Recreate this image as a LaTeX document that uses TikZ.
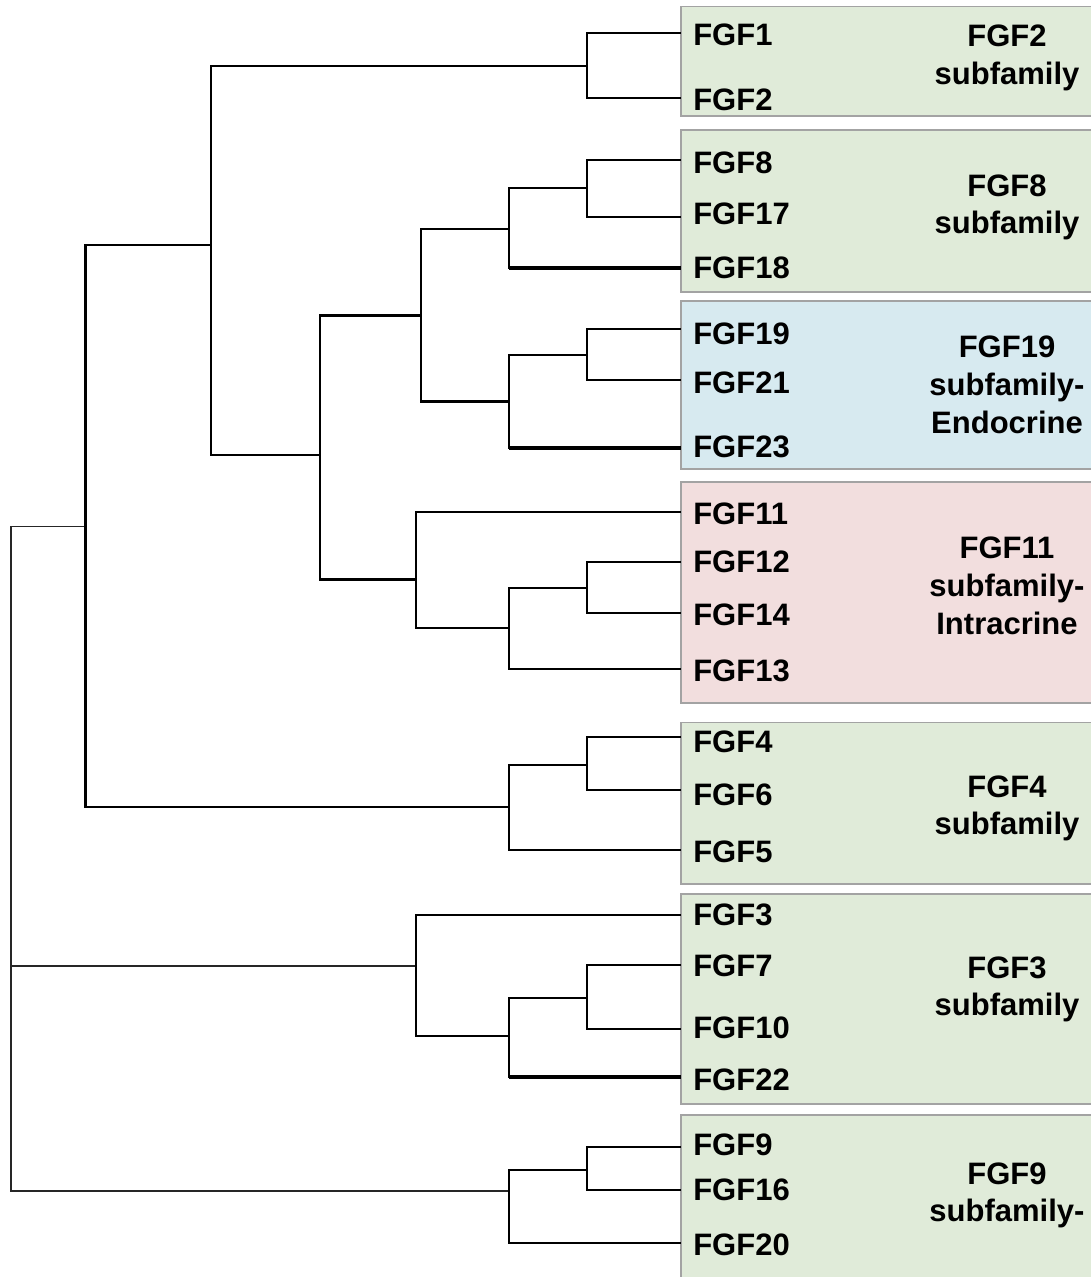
\documentclass[tikz,border=0pt]{standalone}
\usepackage{fontspec}
\setmainfont{Liberation Sans}
\definecolor{boxgreen}{HTML}{E0EBD9}
\definecolor{boxblue}{HTML}{D7EAF0}
\definecolor{boxpink}{HTML}{F2DEDE}
\definecolor{boxborder}{HTML}{A3A3A3}
\begin{document}
\begin{tikzpicture}[x=0.75pt,y=-0.75pt,
  br/.style={line width=1.75pt, black},
  thinbr/.style={line width=1.1pt, black!85},
  thickbr/.style={line width=2.3pt, black},
  fambox/.style={draw=boxborder, line width=1.4pt},
  leaf/.style={anchor=base west, inner sep=0pt, font=\fontsize{23.25}{28}\selectfont\bfseries},
  fam/.style={anchor=base, inner sep=0pt, font=\fontsize{23.25}{28}\selectfont\bfseries}
]
\useasboundingbox (0,0) rectangle (1091,1277);
% family boxes
\path[fambox, fill=boxgreen] (681,6.5) rectangle (1094,116);
\path[fambox, fill=boxgreen] (681,130) rectangle (1094,292);
\path[fambox, fill=boxblue]  (681,301) rectangle (1094,469);
\path[fambox, fill=boxpink]  (681,482) rectangle (1094,703);
\path[fambox, fill=boxgreen] (681,722.5) rectangle (1094,884);
\path[fambox, fill=boxgreen] (681,894) rectangle (1094,1104);
\path[fambox, fill=boxgreen] (681,1115) rectangle (1094,1290);
% internal nodes
\coordinate (root) at (11,966);
\coordinate (nB) at (85.5,526.5);
\coordinate (nA) at (211,245);
\coordinate (n12) at (587,65.7);
\coordinate (nC) at (320,455);
\coordinate (nD) at (421,315.5);
\coordinate (nE) at (509,229);
\coordinate (n817) at (587,188);
\coordinate (nF) at (509,401.6);
\coordinate (n1921) at (587,355);
\coordinate (nG) at (416,579.6);
\coordinate (nH) at (509,628);
\coordinate (n1214) at (587,588);
\coordinate (nI) at (509,807);
\coordinate (n46) at (587,765);
\coordinate (nJ) at (416,966);
\coordinate (nK) at (509,1036);
\coordinate (n710) at (587,998);
\coordinate (nL) at (509,1191);
\coordinate (n916) at (587,1170);
% leaf ends
\coordinate (l1) at (681,33.3);
\coordinate (l2) at (681,97.7);
\coordinate (l8) at (681,160);
\coordinate (l17) at (681,216.7);
\coordinate (l18) at (681,268);
\coordinate (l19) at (681,329);
\coordinate (l21) at (681,380);
\coordinate (l23) at (681,448);
\coordinate (l11) at (681,512);
\coordinate (l12) at (681,562);
\coordinate (l14) at (681,613);
\coordinate (l13) at (681,669);
\coordinate (l4) at (681,737);
\coordinate (l6) at (681,790);
\coordinate (l5) at (681,850);
\coordinate (l3) at (681,915);
\coordinate (l7) at (681,965);
\coordinate (l10) at (681,1029);
\coordinate (l22) at (681,1077);
\coordinate (l9) at (681,1147);
\coordinate (l16) at (681,1190);
\coordinate (l20) at (681,1243);
% branches
\draw[thinbr] (root) |- (nB);
\draw[thinbr] (root) |- (nL);
\draw[thinbr] (root) -- (nJ);
\draw[br] (nB) |- (nA);
\draw[br] (nB) |- (nI);
\draw[br] (nA) |- (n12);
\draw[br] (nA) |- (nC);
\draw[br] (n12) |- (l1);
\draw[br] (n12) |- (l2);
\draw[br] (nC) |- (nD);
\draw[br] (nC) |- (nG);
\draw[br] (nD) |- (nE);
\draw[br] (nD) |- (nF);
\draw[br] (nE) |- (n817);
\draw[br] (nE) |- (l18);
\draw[thickbr] (nE |- l18) -- (l18);
\draw[br] (n817) |- (l8);
\draw[br] (n817) |- (l17);
\draw[br] (nF) |- (n1921);
\draw[br] (nF) |- (l23);
\draw[thickbr] (nF |- l23) -- (l23);
\draw[br] (n1921) |- (l19);
\draw[br] (n1921) |- (l21);
\draw[br] (nG) |- (l11);
\draw[br] (nG) |- (nH);
\draw[br] (nH) |- (n1214);
\draw[br] (nH) |- (l13);
\draw[br] (n1214) |- (l12);
\draw[br] (n1214) |- (l14);
\draw[br] (nI) |- (n46);
\draw[br] (nI) |- (l5);
\draw[br] (n46) |- (l4);
\draw[br] (n46) |- (l6);
\draw[br] (nJ) |- (l3);
\draw[br] (nJ) |- (nK);
\draw[br] (nK) |- (n710);
\draw[br] (nK) |- (l22);
\draw[thickbr] (nK |- l22) -- (l22);
\draw[br] (n710) |- (l7);
\draw[br] (n710) |- (l10);
\draw[br] (nL) |- (n916);
\draw[br] (nL) |- (l20);
\draw[br] (n916) |- (l9);
\draw[br] (n916) |- (l16);
% leaf labels
\node[leaf] (t1) at (693,46) {FGF1};
\node[leaf] (t2) at (693,110.8) {FGF2};
\node[leaf] (t8) at (693,173.6) {FGF8};
\node[leaf] (t17) at (693,224.3) {FGF17};
\node[leaf] (t18) at (693,278.6) {FGF18};
\node[leaf] (t19) at (693,344.4) {FGF19};
\node[leaf] (t21) at (693,393.6) {FGF21};
\node[leaf] (t23) at (693,457.8) {FGF23};
\node[leaf] (t11) at (693,524.4) {FGF11};
\node[leaf] (t12) at (693,572.8) {FGF12};
\node[leaf] (t14) at (693,625.1) {FGF14};
\node[leaf] (t13) at (693,681.8) {FGF13};
\node[leaf] (t4) at (693,752) {FGF4};
\node[leaf] (t6) at (693,805) {FGF6};
\node[leaf] (t5) at (693,862.8) {FGF5};
\node[leaf] (t3) at (693,925) {FGF3};
\node[leaf] (t7) at (693,976.8) {FGF7};
\node[leaf] (t10) at (693,1038.7) {FGF10};
\node[leaf] (t22) at (693,1090) {FGF22};
\node[leaf] (t9) at (693,1155) {FGF9};
\node[leaf] (t16) at (693,1200.6) {FGF16};
\node[leaf] (t20) at (693,1255.8) {FGF20};
% family labels
\node[fam] (f2a) at (1007,46.7) {FGF2};
\node[fam] (f2b) at (1007,85) {subfamily};
\node[fam] (f8a) at (1007,196.7) {FGF8};
\node[fam] (f8b) at (1007,233.5) {subfamily};
\node[fam] (f19a) at (1007,357) {FGF19};
\node[fam] (f19b) at (1007,395) {subfamily-};
\node[fam] (f19c) at (1007,433) {Endocrine};
\node[fam] (f11a) at (1007,558.3) {FGF11};
\node[fam] (f11b) at (1007,596) {subfamily-};
\node[fam] (f11c) at (1007,634) {Intracrine};
\node[fam] (f4a) at (1007,797.5) {FGF4};
\node[fam] (f4b) at (1007,834.5) {subfamily};
\node[fam] (f3a) at (1007,978) {FGF3};
\node[fam] (f3b) at (1007,1015) {subfamily};
\node[fam] (f9a) at (1007,1184) {FGF9};
\node[fam] (f9b) at (1007,1221) {subfamily-};
\end{tikzpicture}
\end{document}
